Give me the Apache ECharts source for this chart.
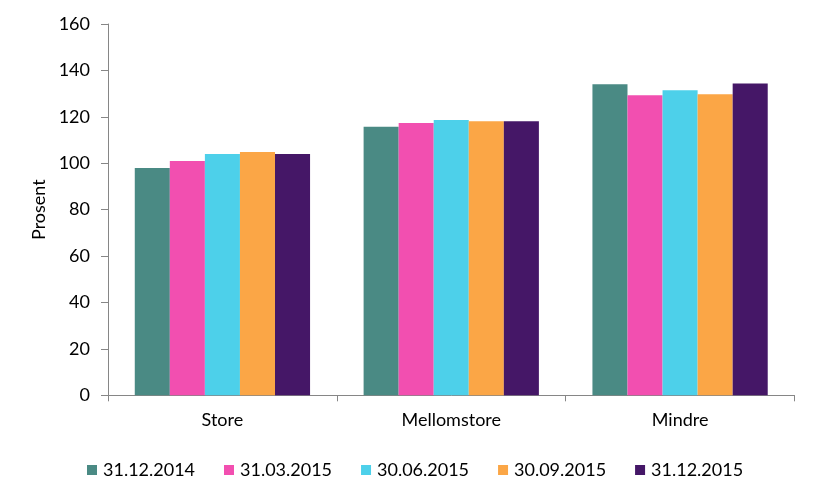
<!DOCTYPE html>
<html>
<head>
<meta charset="utf-8">
<script src="https://cdn.jsdelivr.net/npm/echarts@6/dist/echarts.min.js"></script>
<style>html,body{margin:0;padding:0;background:#fff}#c{width:817px;height:498px}</style>
</head>
<body>
<div id="c"></div>
<script>
const categories = ['Store', 'Mellomstore', 'Mindre'];
const seriesNames = ['31.12.2014', '31.03.2015', '30.06.2015', '30.09.2015', '31.12.2015'];
const colors = ['#4A8A84', '#F24FB0', '#4DD0EA', '#FBA646', '#451767'];
const s20141231 = [98.0, 115.7, 134.0];
const s20150331 = [101.0, 117.3, 129.3];
const s20150630 = [104.0, 118.6, 131.4];
const s20150930 = [104.8, 118.1, 129.7];
const s20151231 = [104.0, 118.1, 134.4];
const seriesValues = [s20141231, s20150331, s20150630, s20150930, s20151231];
const yTicks = { min: 0, max: 160, interval: 20 };

const FONT = 'Lato';
const chart = echarts.init(document.getElementById('c'), null, { renderer: 'canvas' });
chart.setOption({
  animation: false,
  textStyle: { fontFamily: FONT },
  grid: { left: 108, right: 22.5, top: 24, bottom: 102.7, containLabel: false },
  legend: {
    data: seriesNames,
    left: 82,
    top: 456,
    icon: 'rect',
    itemWidth: 10,
    itemHeight: 10,
    itemGap: 29,
    textStyle: { fontFamily: FONT, fontSize: 18, color: '#000', padding: [0, 0, 0, 1] }
  },
  xAxis: {
    type: 'category',
    data: categories,
    boundaryGap: true,
    axisLine: { show: true, lineStyle: { color: '#868686', width: 1 } },
    axisTick: { show: true, alignWithLabel: false, length: 6, lineStyle: { color: '#868686' } },
    axisLabel: { fontFamily: FONT, fontSize: 18, color: '#000', margin: 16 },
    splitLine: { show: false }
  },
  yAxis: {
    type: 'value',
    min: yTicks.min,
    max: yTicks.max,
    interval: yTicks.interval,
    name: 'Prosent',
    nameLocation: 'middle',
    nameRotate: 90,
    nameGap: 58,
    nameTextStyle: { fontFamily: FONT, fontSize: 18, color: '#000' },
    axisLine: { show: true, lineStyle: { color: '#868686', width: 1 } },
    axisTick: { show: true, length: 7, lineStyle: { color: '#868686' } },
    axisLabel: { fontFamily: FONT, fontSize: 18, color: '#000', margin: 18 },
    splitLine: { show: false }
  },
  series: seriesNames.map((name, i) => ({
    name: name,
    type: 'bar',
    data: seriesValues[i],
    itemStyle: { color: colors[i] },
    barGap: '0%',
    barCategoryGap: '23.4%'
  }))
});
</script>
</body>
</html>
